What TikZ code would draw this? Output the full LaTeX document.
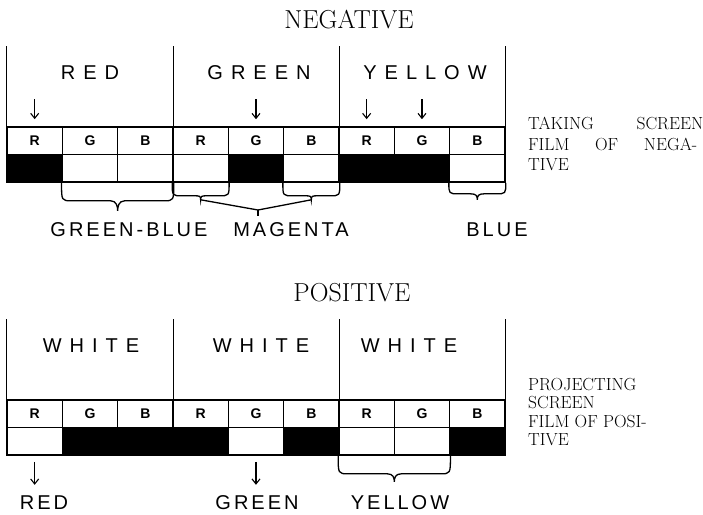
\documentclass[tikz,border=0pt]{standalone}
\usepackage{fontspec}
\usetikzlibrary{arrows.meta}
\usetikzlibrary{calc}
\newfontfamily\handwide[LetterSpace=40]{Liberation Sans}
\newfontfamily\handfont[LetterSpace=15]{Liberation Sans}
\newfontfamily\cellfont{Liberation Sans}
\tikzset{
  % one cell of the screen, lettered R, G or B
  screencell/.style={
    draw, line width=1.6pt, minimum width=55.33pt, minimum height=27.5pt,
    inner sep=0pt, font=\cellfont\bfseries\fontsize{14}{14}\selectfont},
  % one cell of the film under the screen
  filmcell/.style={
    draw, line width=1.6pt, minimum width=55.33pt, minimum height=27.5pt,
    inner sep=0pt, fill=#1},
  wall/.style={line width=1.3pt},
  colourlbl/.style={font=\handwide\fontsize{20}{20}\selectfont, inner sep=0pt},
  outlbl/.style={font=\handfont\fontsize{20}{20}\selectfont, inner sep=0pt},
  titlelbl/.style={font=\fontsize{26}{26}\selectfont, inner sep=0pt},
  sidelbl/.style={font=\fontsize{17.5}{18}\selectfont\addfontfeatures{LetterSpace=21},
    inner sep=0pt, anchor=base west},
  down/.style={-{Straight Barb[length=5pt,width=8pt]}, line width=1.1pt},
  bracelin/.style={line width=1.3pt},
}
% brace under the film: corners, depth of flat part, depth of tip, tip name
\newcommand{\filmbrace}[5]{%
  \draw[bracelin] let \p1=(#1), \p2=(#2), \p3=($(#1)!.5!(#2)$) in
    (\p1) .. controls (\x1,\y1-#3) .. (\x1+10pt,\y1-#3)
    -- (\x3-7pt,\y1-#3) .. controls (\x3-1pt,\y1-#3) and (\x3,\y1-#4+4pt) .. (\x3,\y1-#4)
    coordinate (#5)
    .. controls (\x3,\y1-#4+4pt) and (\x3+1pt,\y1-#3) .. (\x3+7pt,\y1-#3)
    -- (\x2-10pt,\y1-#3) .. controls (\x2,\y1-#3) .. (\p2);}

\begin{document}
\begin{tikzpicture}[x=1pt, y=-1pt]
  \useasboundingbox (0,0) rectangle (703,514);

  % ---- negative
  \node[titlelbl] (tneg) at (349,20) {NEGATIVE};
  \foreach \letter [count=\i] in {R,G,B,R,G,B,R,G,B}
    \node[screencell] (ns\i) at ({7+55.33*(\i-0.5)},140.75) {\letter};
  \foreach \shade [count=\i] in {black,white,white,white,black,white,black,black,white}
    \node[filmcell=\shade] (nf\i) at ({7+55.33*(\i-0.5)},168.25) {};
  \draw[wall] (ns1.north west) -- ++(0,-80);
  \draw[wall] (ns3.north east) -- ++(0,-80);
  \draw[wall] (ns6.north east) -- ++(0,-80);
  \draw[wall] (ns9.north east) -- ++(0,-80);

  \node[colourlbl] (nred) at (90,73) {RED};
  \node[colourlbl] (ngreen) at (259,73) {GREEN};
  \node[colourlbl] (nyellow) at (425,73) {YELLOW};
  \draw[down] ([yshift=27pt]ns1.north) -- ([yshift=7pt]ns1.north);
  \draw[down] ([yshift=27pt]ns5.north) -- ([yshift=7pt]ns5.north);
  \draw[down] ([yshift=27pt]ns7.north) -- ([yshift=7pt]ns7.north);
  \draw[down] ([yshift=27pt]ns8.north) -- ([yshift=7pt]ns8.north);

  \filmbrace{nf2.south west}{nf3.south east}{18pt}{28pt}{tgb}
  \filmbrace{nf4.south west}{nf4.south east}{13pt}{17pt}{tm1}
  \filmbrace{nf6.south west}{nf6.south east}{13pt}{17pt}{tm2}
  \filmbrace{nf9.south west}{nf9.south east}{11pt}{17pt}{tb}
  \coordinate (mj) at (258,210);
  \draw[bracelin] (tm1) -- (mj) -- (tm2);
  \draw[bracelin] (mj) -- ++(0,6);

  \node[outlbl] (lgb) at (129,230) {GREEN-BLUE};
  \node[outlbl] (lmag) at (291,230) {MAGENTA};
  \node[outlbl] (lblue) at (497,230) {BLUE};

  \node[sidelbl] (sneg1) at (528,129) {\hbox to 175pt{TAKING\hfill SCREEN}};
  \node[sidelbl] (sneg2) at (528,150) {\hbox to 169pt{FILM\hfill OF\hfill NEGA-}};
  \node[sidelbl] (sneg3) at (528,170) {TIVE};

  % ---- positive
  \node[titlelbl] (tpos) at (352,293) {POSITIVE};
  \foreach \letter [count=\i] in {R,G,B,R,G,B,R,G,B}
    \node[screencell] (ps\i) at ({7+55.33*(\i-0.5)},413.75) {\letter};
  \foreach \shade [count=\i] in {white,black,black,black,white,black,white,white,black}
    \node[filmcell=\shade] (pf\i) at ({7+55.33*(\i-0.5)},441.25) {};
  \draw[wall] (ps1.north west) -- ++(0,-80);
  \draw[wall] (ps3.north east) -- ++(0,-80);
  \draw[wall] (ps6.north east) -- ++(0,-80);
  \draw[wall] (ps9.north east) -- ++(0,-80);

  \node[colourlbl] (pw1) at (91,346) {WHITE};
  \node[colourlbl] (pw2) at (261,346) {WHITE};
  \node[colourlbl] (pw3) at (409,346) {WHITE};

  \filmbrace{pf7.south west}{pf8.south east}{18pt}{26pt}{ty}
  \node[outlbl] (lpred) at (44,503) {RED};
  \node[outlbl] (lpgreen) at (257,503) {GREEN};
  \node[outlbl] (lpyellow) at (400,503) {YELLOW};
  \draw[down] ([yshift=-6pt]pf1.south) -- ([yshift=-29pt]pf1.south);
  \draw[down] ([yshift=-6pt]pf5.south) -- ([yshift=-29pt]pf5.south);

  \node[sidelbl] (spos1) at (528,390) {PROJECTING};
  \node[sidelbl] (spos2) at (528,408) {SCREEN};
  \node[sidelbl] (spos3) at (528,427) {FILM OF POSI-};
  \node[sidelbl] (spos4) at (528,445) {TIVE};
\end{tikzpicture}
\end{document}
